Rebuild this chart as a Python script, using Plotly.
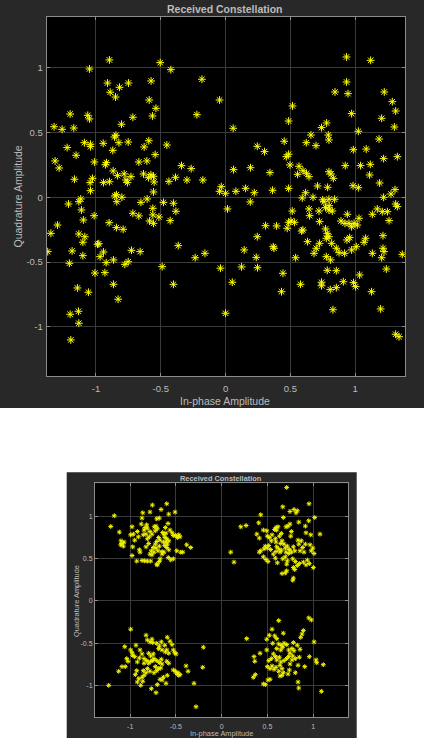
import plotly.graph_objects as go

# ---- received symbols, large view (in-phase, quadrature) ----
top_i = [
    -0.896, -0.504, -1.050, -0.422, -0.182, -0.911, -0.749, -0.574, -0.818, -0.890,
    -0.849, -0.589, -0.537, -1.199, -1.063, -1.050, -0.564, -0.221, -0.715, -0.803,
    -1.323, -1.261, -1.171, -0.857, -0.846, -0.592, -1.089, -1.042, -0.944, -0.823,
    -0.751, -1.222, -1.042, -0.628, -0.870, -0.453, -1.153, -0.543, -1.315, -1.012,
    -0.919, -0.927, -0.669, -0.607, -1.284, -0.340, -0.265, -0.867, -1.166, -1.027,
    -1.045, -0.834, -0.782, -0.769, -0.757, -0.730, -0.633, -0.576, -0.556, -0.551,
    -0.595, -0.437, -0.386, -0.298, -0.175, -0.942, -0.896, -1.042, -0.556, -0.854,
    -0.842, -1.117, -0.800, -1.212, -1.132, -0.839, -0.653, -0.605, -0.479, -0.402,
    0.934, 1.120, 0.934, 0.845, 0.945, 1.225, 1.287, 1.313, -0.046, 0.517,
    0.973, 1.205, 0.487, 0.780, 0.741, 1.303, 0.059, 1.025, 0.659, 0.793,
    0.798, 1.185, 0.453, 0.623, 0.698, 0.245, 0.301, 0.986, 1.086, 0.487,
    0.469, 1.326, 1.220, 0.497, 0.567, 0.924, 1.042, 1.117, 0.062, 0.193,
    0.343, 0.598, 0.625, 0.556, 0.798, 0.814, 0.832, 0.644, 1.112, 1.189,
    -0.033, -0.046, 0.000, 0.080, 0.155, 0.222, 0.363, 0.487, 0.618, 0.592,
    0.710, 0.788, 0.984, 1.025, 1.308, 1.277, 1.220, 0.675, 0.760, 0.798,
    0.842, 0.191, 1.313, 0.750, 0.800,
    -1.014, -1.097, -1.297, -0.898, -0.842, -0.790, -1.348, -1.132, -1.086, -1.101,
    -0.988, -0.978, -1.372, -1.184, -0.942, -0.968, -1.101, -0.921, -0.865, -1.205,
    -0.777, -0.751, -0.726, -0.659, -1.008, -0.931, -1.143, -0.865, -0.489, -0.402,
    -0.365, -0.234, -0.159, -0.715, -0.669, -0.561, -0.561, -0.514, -0.587, -0.556,
    -0.427, -0.383, -1.112,
    -1.194, -1.199, -1.135, -1.132, -1.058, -0.829,
    0.015, 0.515, 0.644, 0.649, 0.721, 0.772, 0.798, 0.824, 0.940, 1.133,
    1.171, 1.210, 1.249, 1.326, 1.262, 0.309, 0.394, 0.487, 0.505, 0.533,
    0.476, 0.587, 0.597, 0.726, 0.772, 0.785, 0.798, 0.778, 0.891, 0.922,
    0.953, 0.973, 0.992, 1.030, 1.017, 1.215, 0.245, 0.368, 0.374, 0.633,
    0.726, 0.700, 0.683, 0.819, 0.855, 0.937, 0.958, 1.009, 1.069, 1.081,
    0.973, 0.919, 0.876, 1.133, 1.215, 1.223, 1.205, 1.364, 0.144, 0.237,
    0.541, 0.778, 0.811, -0.039, 0.124, 0.247, 0.443, 0.785, 0.855, 1.035,
    1.241, 0.052, 0.432, 0.579, 0.741, 0.741, 0.808, 0.855, 0.909, 0.988,
    1.004, 1.127, 0.000, 0.829, 1.197, 1.313, 1.339,
]
top_q = [
    1.059, 1.038, 0.989, 0.984, 0.910, 0.881, 0.881, 0.897, 0.848, 0.810,
    0.773, 0.750, 0.686, 0.642, 0.632, 0.604, 0.627, 0.637, 0.617, 0.563,
    0.544, 0.524, 0.534, 0.465, 0.478, 0.436, 0.421, 0.409, 0.416, 0.421,
    0.426, 0.383, 0.390, 0.388, 0.362, 0.403, 0.324, 0.329, 0.280, 0.272,
    0.267, 0.251, 0.272, 0.280, 0.226, 0.244, 0.221, 0.203, 0.139, 0.146,
    0.113, 0.167, 0.180, 0.133, 0.113, 0.159, 0.180, 0.174, 0.162, 0.118,
    0.151, 0.123, 0.154, 0.133, 0.133, 0.113, 0.120, 0.051, 0.041, 0.010,
    0.020, -0.013, 0.000, -0.052, -0.034, -0.034, -0.039, -0.013, -0.039, -0.046,
    1.082, 1.056, 0.889, 0.812, 0.799, 0.812, 0.737, 0.665, 0.750, 0.704,
    0.645, 0.609, 0.588, 0.573, 0.537, 0.542, 0.532, 0.509, 0.480, 0.480,
    0.442, 0.449, 0.432, 0.421, 0.398, 0.393, 0.352, 0.367, 0.372, 0.332,
    0.313, 0.313, 0.298, 0.249, 0.239, 0.244, 0.244, 0.254, 0.213, 0.228,
    0.190, 0.205, 0.185, 0.177, 0.197, 0.180, 0.146, 0.159, 0.172, 0.110,
    0.082, 0.046, 0.031, 0.046, 0.069, 0.035, 0.054, 0.069, 0.035, -0.005,
    0.087, 0.077, 0.089, 0.074, 0.059, 0.025, 0.000, 0.000, -0.034, -0.015,
    -0.015, -0.036, -0.052, -0.020, -0.065,
    -0.142, -0.175, -0.214, -0.196, -0.234, -0.247, -0.278, -0.283, -0.304, -0.347,
    -0.362, -0.358, -0.419, -0.414, -0.422, -0.458, -0.450, -0.504, -0.483, -0.509,
    -0.517, -0.497, -0.409, -0.419, -0.584, -0.581, -0.699, -0.671, -0.535, -0.671,
    -0.373, -0.466, -0.432, -0.123, -0.144, -0.085, -0.136, -0.152, -0.183, -0.201,
    -0.180, -0.108, -0.098,
    -1.100, -0.902, -0.879, -0.971, -0.732, -0.786,
    -0.090, -0.106, -0.090, -0.142, -0.106, -0.080, -0.098, -0.106, -0.131, -0.131,
    -0.090, -0.111, -0.111, -0.072, -0.180, -0.219, -0.221, -0.193, -0.183, -0.193,
    -0.239, -0.260, -0.252, -0.188, -0.244, -0.278, -0.304, -0.316, -0.183, -0.201,
    -0.201, -0.227, -0.201, -0.162, -0.214, -0.296, -0.304, -0.381, -0.393, -0.342,
    -0.355, -0.393, -0.432, -0.355, -0.393, -0.329, -0.311, -0.381, -0.347, -0.316,
    -0.406, -0.432, -0.427, -0.432, -0.393, -0.419, -0.466, -0.440, -0.406, -0.463,
    -0.466, -0.458, -0.483, -0.547, -0.537, -0.543, -0.586, -0.563, -0.566, -0.599,
    -0.553, -0.655, -0.728, -0.671, -0.655, -0.682, -0.712, -0.697, -0.651, -0.658,
    -0.689, -0.728, -0.894, -0.867, -0.861, -1.056, -1.075,
]

# ---- received symbols, small view (four QPSK clusters) ----
bot_i = [
    # upper-left
    -1.174, -1.213, -1.119, -1.101, -1.090, -1.075, -1.104, -1.068, -0.980, -0.995,
    -0.966, -0.973, -0.980, -0.929, -0.871, -0.842, -0.813, -0.776, -0.900, -0.893,
    -0.911, -0.922, -0.863, -0.871, -0.784, -0.758, -0.663, -0.601, -0.579, -0.510,
    -0.710, -0.682, -0.820, -0.838, -0.849, -0.813, -0.879, -0.737, -0.718, -0.704,
    -0.726, -0.784, -0.762, -0.791, -0.616, -0.587, -0.529, -0.507, -0.470, -0.456,
    -0.485, -0.565, -0.543, -0.645, -0.631, -0.609, -0.620, -0.601, -0.579, -0.609,
    -0.638, -0.595, -0.623, -0.689, -0.674, -0.710, -0.726, -0.682, -0.718, -0.748,
    -0.813, -0.798, -0.827, -0.769, -0.740, -0.784, -0.762, -0.696, -0.652, -0.631,
    -0.652, -0.674, -0.682, -0.710, -0.704, -0.584, -0.557, -0.529, -0.579, -0.601,
    -0.492, -0.448, -0.426, -0.383, -0.339, -0.827, -0.951, -0.857,
    # upper-right
    0.710, 0.667, 0.746, 0.790, 0.826, 0.812, 0.954, 0.426, 0.673, 1.016,
    0.951, 0.208, 0.266, 0.404, 0.746, 0.703, 0.724, 0.842, 0.914, 0.593,
    0.615, 0.600, 0.578, 0.455, 0.492, 0.383, 0.411, 0.498, 0.520, 0.550,
    0.651, 0.630, 0.761, 0.754, 0.921, 0.973, 1.074, 0.834, 0.870, 0.586,
    0.593, 0.645, 0.659, 0.681, 0.542, 0.476, 0.498, 0.462, 0.514, 0.426,
    0.411, 0.600, 0.623, 0.593, 0.637, 0.651, 0.695, 0.717, 0.739, 0.703,
    0.732, 0.761, 0.783, 0.798, 0.842, 0.885, 0.856, 0.899, 0.965, 0.995,
    0.979, 1.009, 0.098, 0.134, 0.455, 0.484, 0.506, 0.586, 0.608, 0.667,
    0.695, 0.717, 0.710, 0.776, 0.804, 0.848, 0.826, 0.892, 0.936, 0.921,
    0.957, 1.001, 0.783, 0.798, 0.710, 0.695, 0.659, 0.783, 0.776, 0.564,
    0.535, 0.914,
    # lower-left
    -0.995, -0.827, -1.060, -0.995, -0.980, -0.973, -0.937, -1.038, -1.024, -1.090,
    -1.126, -1.054, -1.235, -0.893, -0.871, -0.900, -0.849, -0.849, -0.820, -0.798,
    -0.776, -0.813, -0.784, -0.762, -0.754, -0.710, -0.682, -0.660, -0.689, -0.652,
    -0.595, -0.565, -0.543, -0.623, -0.616, -0.601, -0.579, -0.529, -0.514, -0.499,
    -0.798, -0.776, -0.748, -0.740, -0.754, -0.710, -0.682, -0.660, -0.652, -0.726,
    -0.689, -0.710, -0.740, -0.667, -0.857, -0.827, -0.849, -0.871, -0.813, -0.784,
    -0.863, -0.885, -0.929, -0.944, -0.907, -0.922, -0.769, -0.718, -0.595, -0.638,
    -0.652, -0.674, -0.609, -0.704, -0.529, -0.507, -0.478, -0.456, -0.470, -0.492,
    -0.390, -0.368, -0.201, -0.208, -0.303, -0.281, -0.601, -0.579, -0.922, -0.951,
    # lower-right
    0.951, 0.979, 0.623, 0.550, 0.673, 0.892, 0.878, 0.273, 0.492, 0.520,
    0.863, 1.009, 0.557, 0.623, 0.651, 0.681, 0.710, 0.667, 0.601, 0.645,
    0.783, 0.826, 0.856, 0.790, 0.768, 0.732, 0.746, 0.492, 0.419, 0.353,
    0.361, 0.564, 0.586, 0.542, 0.514, 0.601, 0.630, 0.645, 0.681, 0.710,
    0.732, 0.776, 0.804, 0.848, 0.957, 1.031, 1.038, 1.110, 0.498, 0.528,
    0.550, 0.572, 0.593, 0.637, 0.659, 0.623, 0.673, 0.725, 0.739, 0.804,
    0.834, 0.907, 0.367, 0.345, 0.455, 0.476, 0.506, 0.528, 0.637, 0.659,
    0.834, 0.842, 1.089, 0.768, 0.746, 0.601, 0.579,
]
bot_q = [
    # upper-left
    1.006, 0.880, 0.813, 0.710, 0.678, 0.647, 0.663, 0.695, 0.876, 0.781,
    0.789, 0.639, 0.536, 0.470, 0.477, 0.473, 0.470, 0.470, 0.604, 0.576,
    0.757, 0.820, 1.041, 0.979, 1.050, 1.133, 1.081, 1.148, 1.026, 1.050,
    0.970, 0.979, 0.899, 0.867, 0.837, 0.860, 0.908, 0.876, 0.884, 0.852,
    0.828, 0.820, 0.789, 0.757, 0.867, 0.915, 0.773, 0.773, 0.781, 0.757,
    0.749, 0.837, 0.805, 0.808, 0.781, 0.801, 0.749, 0.734, 0.710, 0.695,
    0.695, 0.671, 0.654, 0.749, 0.718, 0.702, 0.671, 0.647, 0.624, 0.631,
    0.734, 0.678, 0.639, 0.592, 0.576, 0.553, 0.544, 0.592, 0.583, 0.576,
    0.553, 0.497, 0.465, 0.434, 0.426, 0.512, 0.485, 0.497, 0.604, 0.631,
    0.592, 0.576, 0.576, 0.663, 0.631, 0.789, 0.718, 0.781,
    # upper-right
    1.341, 1.112, 1.057, 1.081, 1.065, 1.041, 1.148, 1.018, 0.986, 0.986,
    0.947, 0.876, 0.891, 0.923, 0.908, 0.876, 0.884, 0.931, 0.884, 0.867,
    0.876, 0.837, 0.844, 0.837, 0.828, 0.789, 0.742, 0.765, 0.749, 0.781,
    0.797, 0.765, 0.820, 0.765, 0.805, 0.781, 0.789, 0.718, 0.710, 0.734,
    0.695, 0.678, 0.710, 0.671, 0.710, 0.647, 0.624, 0.615, 0.654, 0.592,
    0.576, 0.639, 0.615, 0.583, 0.576, 0.600, 0.624, 0.647, 0.607, 0.576,
    0.560, 0.576, 0.639, 0.592, 0.671, 0.631, 0.592, 0.576, 0.663, 0.624,
    0.592, 0.560, 0.576, 0.458, 0.521, 0.489, 0.465, 0.505, 0.450, 0.497,
    0.521, 0.473, 0.434, 0.497, 0.465, 0.441, 0.418, 0.458, 0.482, 0.426,
    0.441, 0.394, 0.394, 0.370, 0.355, 0.331, 0.323, 0.269, 0.245, 0.553,
    0.607, 0.671,
    # lower-left
    -0.335, -0.406, -0.541, -0.580, -0.612, -0.643, -0.524, -0.683, -0.714, -0.777,
    -0.832, -0.777, -0.998, -0.580, -0.627, -0.675, -0.683, -0.737, -0.706, -0.737,
    -0.714, -0.462, -0.485, -0.453, -0.493, -0.501, -0.533, -0.485, -0.564, -0.580,
    -0.430, -0.477, -0.517, -0.524, -0.604, -0.580, -0.619, -0.580, -0.612, -0.627,
    -0.619, -0.651, -0.627, -0.683, -0.706, -0.706, -0.730, -0.690, -0.746, -0.777,
    -0.801, -0.825, -0.849, -0.793, -0.825, -0.849, -0.880, -0.903, -0.801, -0.832,
    -0.950, -0.998, -0.825, -0.872, -0.920, -0.959, -1.038, -1.085, -0.880, -0.903,
    -0.935, -0.927, -0.974, -0.990, -0.817, -0.832, -0.849, -0.872, -0.880, -0.856,
    -0.769, -0.832, -0.548, -0.785, -0.974, -1.251, -0.714, -0.737, -0.722, -0.659,
    # lower-right
    -0.201, -0.225, -0.233, -0.335, -0.382, -0.351, -0.391, -0.446, -0.453, -0.406,
    -0.430, -0.485, -0.501, -0.509, -0.524, -0.501, -0.517, -0.548, -0.564, -0.580,
    -0.493, -0.524, -0.572, -0.588, -0.564, -0.580, -0.619, -0.580, -0.619, -0.659,
    -0.714, -0.627, -0.659, -0.683, -0.706, -0.698, -0.666, -0.722, -0.706, -0.683,
    -0.659, -0.651, -0.683, -0.666, -0.659, -0.698, -0.730, -0.754, -0.777, -0.801,
    -0.769, -0.809, -0.785, -0.761, -0.801, -0.832, -0.849, -0.864, -0.817, -0.849,
    -0.761, -0.777, -0.872, -0.903, -0.982, -0.990, -0.935, -0.927, -0.888, -0.880,
    -0.959, -1.030, -1.069, -0.698, -0.746, -0.446, -0.414,
]

tick_vals = [-1, -0.5, 0, 0.5, 1]
tick_text = ["-1", "-0.5", "0", "0.5", "1"]
title_text = "Received Constellation"
x_label = "In-phase Amplitude"
y_label = "Quadrature Amplitude"

# ---- page geometry (pixels) ----
W, H = 424, 738
FONT = "Liberation Sans, Arial, sans-serif"
PANEL = "#282828"
GRID = "#3a3a3a"
AXIS = "#8c8c8c"
TEXT = "#bcbcbc"
YELLOW = "#ffff00"


def fx(p):
    return p / W


def fy(p):
    return 1 - p / H


top_box = (46.7, 17.0, 405.0, 376.0)      # left, top, right, bottom
bot_box = (95.0, 483.3, 348.0, 717.3)

fig = go.Figure()
fig.add_trace(go.Scatter(
    x=top_i, y=top_q, mode="markers", xaxis="x", yaxis="y",
    marker=dict(symbol="asterisk-open", size=6.5, color=YELLOW,
                line=dict(color=YELLOW, width=1)),
    hoverinfo="skip", showlegend=False))
fig.add_trace(go.Scatter(
    x=bot_i, y=bot_q, mode="markers", xaxis="x2", yaxis="y2",
    marker=dict(symbol="asterisk-open", size=4, color="#f2f200",
                line=dict(color="#f2f200", width=1)),
    hoverinfo="skip", showlegend=False))


def axis(domain, anchor, font_size, rng, standoff):
    return dict(
        domain=domain, anchor=anchor, range=rng,
        tickvals=tick_vals, ticktext=tick_text,
        ticks="inside", ticklen=3, tickcolor=AXIS, tickwidth=1,
        showline=True, linecolor=AXIS, linewidth=1, mirror="allticks",
        showgrid=True, gridcolor=GRID, gridwidth=1, zeroline=False,
        tickfont=dict(family=FONT, size=font_size, color=TEXT),
        ticklabelstandoff=standoff,
        fixedrange=True,
    )


l, t, r, b = top_box
fig.update_layout(
    xaxis=axis([fx(l), fx(r)], "y", 9.5, [-1.38, 1.385], 4),
    yaxis=axis([fy(b), fy(t)], "x", 9.5, [-1.378, 1.39], 1),
)
l2, t2, r2, b2 = bot_box
fig.update_layout(
    xaxis2=axis([fx(l2), fx(r2)], "y2", 7, [-1.385, 1.38], 2),
    yaxis2=axis([fy(b2), fy(t2)], "x2", 7, [-1.376, 1.39], 0),
)

shapes = [
    dict(type="rect", xref="paper", yref="paper", x0=0, x1=1, y0=fy(408), y1=1,
         fillcolor=PANEL, line=dict(width=0), layer="below"),
    dict(type="rect", xref="paper", yref="paper", x0=fx(66.7), x1=fx(356.7),
         y0=0, y1=fy(472.3), fillcolor=PANEL, line=dict(width=0), layer="below"),
    dict(type="rect", xref="x domain", yref="y domain", x0=0, x1=1, y0=0, y1=1,
         fillcolor="#000000", line=dict(width=0), layer="below"),
    dict(type="rect", xref="x2 domain", yref="y2 domain", x0=0, x1=1, y0=0, y1=1,
         fillcolor="#000000", line=dict(width=0), layer="below"),
]


def label(text, x, y, size, bold=False, angle=0):
    return dict(
        text=f"<b>{text}</b>" if bold else text,
        xref="paper", yref="paper", x=fx(x), y=fy(y),
        xanchor="center", yanchor="middle", showarrow=False, textangle=angle,
        font=dict(family=FONT, size=size, color=TEXT),
    )


annotations = [
    label(title_text, 225, 8.5, 10.5, bold=True),
    label(x_label, 225, 401, 10.5),
    label(y_label, 18, 196.5, 10.5, angle=-90),
    label(title_text, 221, 478.3, 7.4, bold=True),
    label(x_label, 221, 733.3, 7.4),
    label(y_label, 76, 601, 7.4, angle=-90),
]

fig.update_layout(
    width=W, height=H, autosize=False,
    margin=dict(l=0, r=0, t=0, b=0, pad=0),
    paper_bgcolor="#ffffff", plot_bgcolor="#000000",
    shapes=shapes, annotations=annotations, showlegend=False,
)

fig.write_html("out.html", config={"displayModeBar": False})
